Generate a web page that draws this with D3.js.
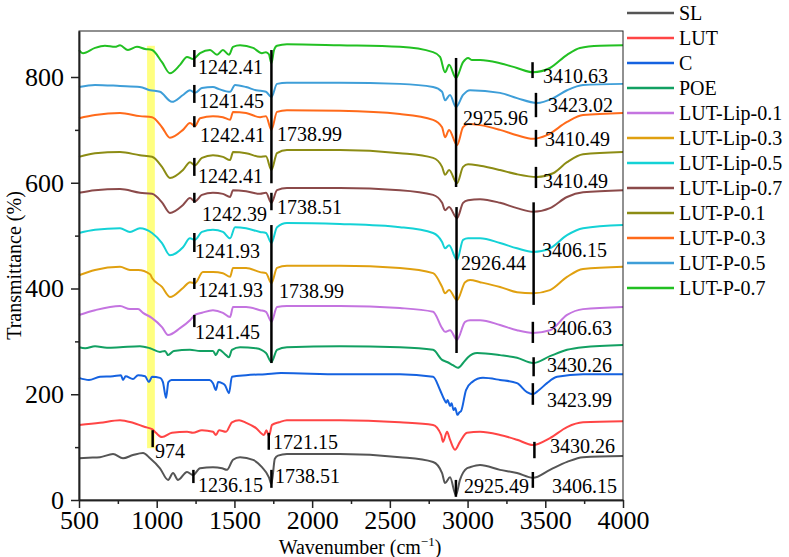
<!DOCTYPE html>
<html>
<head>
<meta charset="utf-8">
<script src="https://cdn.jsdelivr.net/npm/d3@7"></script>
<style>
  body { margin: 0; background: #fff; }
  svg text { font-family: "Liberation Serif", "DejaVu Serif", "Times New Roman", serif; fill: #000; }
</style>
</head>
<body>
<div id="chart"></div>
<script>
var seriesNames = ['SL', 'LUT', 'C', 'POE', 'LUT-Lip-0.1', 'LUT-Lip-0.3', 'LUT-Lip-0.5',
  'LUT-Lip-0.7', 'LUT-P-0.1', 'LUT-P-0.3', 'LUT-P-0.5', 'LUT-P-0.7']

var xTicks = [500, 1000, 1500, 2000, 2500, 3000, 3500, 4000]
var xMinorTicks = [750, 1250, 1750, 2250, 2750, 3250, 3750]
var yTicks = [0, 200, 400, 600, 800]
var yMinorTicks = [100, 300, 500, 700]

// [wavenumber, transmittance]
var SL = [[500,79],[560,80],[635,81],[719,87],[783,79],[847,85],[912,89],[957,79],[1021,60],[1073,38],[1105,51],[1137,38],[1195,53],[1233,47],[1279,60],[1362,62],[1420,60],[1452,57],[1491,76],[1536,81],[1620,76],[1677,62],[1722,43],[1738,30],[1760,78],[1780,84],[1838,87],[2179,87],[2565,81],[2778,72],[2836,51],[2855,32],[2887,43],[2925,9],[2951,38],[2996,60],[3016,62],[3080,66],[3209,57],[3318,51],[3421,42],[3530,57],[3640,72],[3743,81],[4000,83]]
var LUT = [[500,142],[635,146],[764,151],[847,146],[925,138],[970,134],[995,127],[1034,119],[1098,127],[1195,129],[1233,127],[1291,132],[1362,129],[1381,123],[1401,132],[1446,129],[1484,147],[1530,151],[1575,146],[1639,136],[1690,123],[1706,132],[1722,121],[1742,142],[1787,147],[1838,151],[2179,151],[2565,147],[2778,142],[2830,123],[2842,110],[2868,129],[2887,114],[2919,95],[2951,110],[2996,127],[3080,129],[3209,123],[3318,114],[3421,104],[3530,117],[3640,138],[3743,147],[4000,149]]
var C = [[500,231],[564,227],[635,233],[719,234],[770,236],[783,227],[800,234],[847,229],[880,236],[925,234],[950,223],[970,233],[1021,231],[1040,223],[1060,193],[1075,223],[1095,227],[1200,227],[1340,227],[1362,221],[1381,208],[1395,223],[1420,221],[1440,217],[1465,202],[1484,233],[1575,236],[1700,238],[1800,240],[2179,238],[2565,238],[2778,233],[2823,208],[2850,190],[2862,184],[2872,189],[2887,178],[2897,183],[2910,170],[2920,174],[2935,161],[2948,166],[2958,168],[2990,208],[3029,223],[3099,231],[3209,227],[3318,221],[3382,204],[3421,200],[3460,208],[3511,221],[3576,233],[3743,238],[4000,238]]
var POE = [[500,289],[540,287],[603,291],[680,288],[764,289],[892,291],[957,287],[1021,280],[1053,282],[1073,274],[1110,282],[1214,284],[1279,282],[1362,282],[1381,274],[1401,284],[1446,274],[1465,270],[1484,284],[1536,289],[1639,287],[1703,278],[1738,261],[1774,284],[1838,289],[2179,291],[2565,289],[2778,284],[2836,265],[2868,261],[2906,255],[2938,250],[2971,259],[3003,270],[3061,278],[3209,274],[3318,269],[3421,259],[3530,272],[3640,284],[3743,289],[4000,293]]
var LUTLip01 = [[500,350],[603,359],[764,367],[828,361],[880,361],[912,354],[970,344],[1034,327],[1073,312],[1150,325],[1214,340],[1246,350],[1291,354],[1362,359],[1426,354],[1472,346],[1491,365],[1575,365],[1665,359],[1703,356],[1738,337],[1774,365],[1838,367],[2179,367],[2565,363],[2778,356],[2836,325],[2855,318],[2887,321],[2932,303],[2984,337],[3016,340],[3080,340],[3209,331],[3318,321],[3421,316],[3530,321],[3640,350],[3743,361],[4000,365]]
var LUTLip03 = [[500,425],[603,435],[764,441],[828,435],[880,435],[957,427],[970,420],[1034,403],[1085,384],[1169,401],[1214,412],[1246,410],[1297,431],[1362,431],[1426,429],[1472,422],[1491,439],[1575,439],[1665,431],[1703,429],[1738,410],[1774,439],[1838,443],[2179,443],[2565,439],[2778,429],[2836,403],[2855,391],[2881,397],[2932,378],[2984,412],[3016,416],[3080,412],[3209,403],[3318,393],[3421,391],[3530,397],[3640,422],[3743,437],[4000,441]]
var LUTLip05 = [[500,505],[603,511],[764,514],[828,507],[892,514],[970,505],[1034,486],[1085,463],[1169,478],[1214,495],[1246,492],[1291,507],[1362,511],[1426,507],[1472,495],[1504,516],[1575,514],[1665,507],[1703,505],[1738,486],[1774,516],[1838,524],[2179,522],[2565,516],[2778,505],[2836,488],[2855,476],[2881,482],[2932,454],[2971,492],[3003,495],[3080,495],[3209,486],[3318,476],[3421,469],[3530,476],[3640,501],[3743,514],[4000,520]]
var LUTLip07 = [[500,581],[603,586],[764,588],[892,581],[970,579],[1034,563],[1085,543],[1169,558],[1214,571],[1246,565],[1291,577],[1362,581],[1426,579],[1472,573],[1491,586],[1575,584],[1665,579],[1703,581],[1738,562],[1774,586],[1838,590],[2179,590],[2565,586],[2778,577],[2836,562],[2855,548],[2881,554],[2932,533],[2971,562],[3003,567],[3080,569],[3209,562],[3318,552],[3421,545],[3530,552],[3640,573],[3743,582],[4000,586]]
var LUTP01 = [[500,649],[603,656],[764,658],[892,652],[970,649],[1034,630],[1085,609],[1169,624],[1214,639],[1246,633],[1291,647],[1362,652],[1426,649],[1472,643],[1491,658],[1575,656],[1665,649],[1703,650],[1738,624],[1774,656],[1838,662],[2179,662],[2565,656],[2778,647],[2836,630],[2855,615],[2881,624],[2932,599],[2971,630],[3003,635],[3080,632],[3209,624],[3318,616],[3447,611],[3550,618],[3640,639],[3743,654],[4000,658]]
var LUTP03 = [[500,722],[603,728],[764,732],[892,726],[970,724],[1034,705],[1085,685],[1169,700],[1214,713],[1246,707],[1279,722],[1362,726],[1426,724],[1472,719],[1491,734],[1575,732],[1665,724],[1703,726],[1738,700],[1774,734],[1838,737],[2179,736],[2565,730],[2778,719],[2836,705],[2855,686],[2881,700],[2932,671],[2971,705],[3003,711],[3080,709],[3209,700],[3318,690],[3421,683],[3511,690],[3640,715],[3743,728],[4000,732]]
var LUTP05 = [[500,781],[603,785],[764,783],[892,781],[957,775],[1021,772],[1098,753],[1169,766],[1214,775],[1246,770],[1291,779],[1362,781],[1401,777],[1472,772],[1504,785],[1575,781],[1639,775],[1703,772],[1738,762],[1774,787],[1838,789],[2179,789],[2565,787],[2778,781],[2836,772],[2855,756],[2887,766],[2925,743],[2971,766],[3016,775],[3209,770],[3318,760],[3447,751],[3550,760],[3640,775],[3743,785],[4000,787]]
var LUTP07 = [[500,851],[526,845],[603,855],[667,859],[732,857],[764,860],[815,851],[873,857],[925,853],[970,851],[1034,828],[1085,807],[1150,823],[1195,838],[1233,834],[1279,845],[1343,851],[1388,842],[1426,851],[1465,842],[1491,857],[1536,860],[1620,855],[1677,845],[1703,847],[1722,843],[1738,826],[1755,851],[1774,859],[1838,862],[2179,860],[2565,857],[2778,847],[2823,838],[2855,809],[2881,823],[2925,798],[2971,828],[3003,836],[3029,832],[3080,832],[3209,826],[3318,817],[3421,809],[3530,817],[3640,842],[3723,855],[3852,859],[4000,860]]

var spectra = [SL, LUT, C, POE, LUTLip01, LUTLip03, LUTLip05, LUTLip07, LUTP01, LUTP03, LUTP05, LUTP07]

// highlighted band near 974 cm-1
var bandWavenumbers = [938, 988]
var bandTransmittance = [98, 859]

// peak markers: [wavenumber, from, to]
var peakMarkers = [
  [1242, 851, 819], [1242, 785, 751], [1242, 726, 705], [1242, 647, 613],
  [1242, 581, 562], [1242, 505, 469], [1242, 420, 399], [1242, 350, 327],
  [974, 132, 100], [1721, 127, 95], [1236, 57, 32], [1738, 57, 23],
  [1738, 851, 599], [1738, 581, 548], [1738, 520, 259],
  [2926, 836, 592], [2929, 554, 278], [2925, 38, 6],
  [3418, 828, 798], [3440, 770, 724], [3440, 700, 668], [3440, 630, 590],
  [3425, 563, 369], [3420, 337, 297], [3425, 270, 234], [3420, 221, 180],
  [3430, 110, 79], [3420, 53, 23]
]

// peak labels: [text, wavenumber, transmittance]
var peakLabels = [
  ['1242.41', 1266, 806], ['1241.45', 1272, 741], ['1242.41', 1278, 677], ['1242.41', 1266, 599],
  ['1242.39', 1291, 528], ['1241.93', 1246, 458], ['1241.93', 1266, 384], ['1241.45', 1246, 304],
  ['974', 989, 79], ['1721.15', 1748, 96], ['1236.15', 1266, 15], ['1738.51', 1761, 32],
  ['1738.99', 1774, 679], ['1738.51', 1774, 541], ['1738.99', 1787, 382],
  ['2925.96', 2971, 709], ['2926.44', 2958, 435], ['2925.49', 2977, 13],
  ['3410.63', 3485, 789], ['3423.02', 3518, 734], ['3410.49', 3498, 669], ['3410.49', 3485, 590],
  ['3406.15', 3479, 460], ['3406.63', 3511, 312], ['3430.26', 3511, 242], ['3423.99', 3511, 176],
  ['3430.26', 3530, 89], ['3406.15', 3543, 13]
]

var colors = ['#555555', '#ff4545', '#1562e0', '#12a062', '#c474e0', '#e0a010',
  '#14d2d6', '#8b4a4a', '#8c8c14', '#ff6a1a', '#3e9ed8', '#22c022']

;(function () {

  var margin = { top: 31, right: 166, bottom: 57, left: 79 }

  var width = 789 - margin.left - margin.right,
      height = 557 - margin.top - margin.bottom

  var serif = '"Liberation Serif", "DejaVu Serif", "Times New Roman", serif'

  var svg = d3.select("#chart").append("svg")
    .attr("width", width + margin.left + margin.right)
    .attr("height", height + margin.top + margin.bottom)
    .style("font-family", serif)
    .append("g")
    .attr("transform", "translate(" + margin.left + "," + margin.top + ")")

  var xPositionScale = d3.scaleLinear()
    .domain([500, 4000])
    .range([0, width])

  var yPositionScale = d3.scaleLinear()
    .domain([0, 887])
    .range([height, 0])

  svg.append("rect")
    .attr("x", xPositionScale(bandWavenumbers[0]))
    .attr("width", xPositionScale(bandWavenumbers[1]) - xPositionScale(bandWavenumbers[0]))
    .attr("y", yPositionScale(bandTransmittance[1]))
    .attr("height", yPositionScale(bandTransmittance[0]) - yPositionScale(bandTransmittance[1]))
    .attr("fill", "#ffff80")

  var line = d3.line()
    .x(function (d) { return xPositionScale(d[0]) })
    .y(function (d) { return yPositionScale(d[1]) })
    .curve(d3.curveMonotoneX)

  svg.selectAll(".spectrum")
    .data(spectra)
    .enter().append("path")
    .attr("class", "spectrum")
    .attr("d", line)
    .attr("fill", "none")
    .attr("stroke", function (d, i) { return colors[i] })
    .attr("stroke-width", 2)
    .attr("stroke-linejoin", "round")

  svg.selectAll(".marker")
    .data(peakMarkers)
    .enter().append("line")
    .attr("class", "marker")
    .attr("x1", function (d) { return xPositionScale(d[0]) })
    .attr("x2", function (d) { return xPositionScale(d[0]) })
    .attr("y1", function (d) { return yPositionScale(d[1]) })
    .attr("y2", function (d) { return yPositionScale(d[2]) })
    .attr("stroke", "#000")
    .attr("stroke-width", 2.5)

  svg.selectAll(".peak-label")
    .data(peakLabels)
    .enter().append("text")
    .attr("class", "peak-label")
    .attr("x", function (d) { return xPositionScale(d[1]) })
    .attr("y", function (d) { return yPositionScale(d[2]) })
    .style("font-family", serif)
    .style("font-size", "20px")
    .text(function (d) { return d[0] })

  // frame
  svg.append("rect")
    .attr("width", width)
    .attr("height", height)
    .attr("fill", "none")
    .attr("stroke", "#222")
    .attr("stroke-width", 1)

  var xAxis = d3.axisBottom(xPositionScale)
    .tickValues(xTicks)
    .tickSize(8)
    .tickSizeOuter(0)
    .tickPadding(3)
    .tickFormat(d3.format("d"))
  svg.append("g")
    .attr("class", "axis x-axis")
    .attr("transform", "translate(0," + height + ")")
    .call(xAxis)

  svg.append("g")
    .attr("class", "axis x-minor")
    .attr("transform", "translate(0," + height + ")")
    .call(d3.axisBottom(xPositionScale).tickValues(xMinorTicks).tickSize(4).tickSizeOuter(0).tickFormat(""))

  var yAxis = d3.axisLeft(yPositionScale)
    .tickValues(yTicks)
    .tickSize(8)
    .tickSizeOuter(0)
    .tickPadding(7)
  svg.append("g")
    .attr("class", "axis y-axis")
    .call(yAxis)

  svg.append("g")
    .attr("class", "axis y-minor")
    .call(d3.axisLeft(yPositionScale).tickValues(yMinorTicks).tickSize(4).tickSizeOuter(0).tickFormat(""))

  svg.selectAll(".axis")
    .attr("font-family", null)
    .attr("font-size", null)
  svg.selectAll(".axis text")
    .style("font-family", serif)
    .style("font-size", "26px")
    .attr("fill", "#000")
  svg.selectAll(".axis path, .axis line")
    .attr("stroke", "#222")
    .attr("stroke-width", 1.5)

  // axis titles
  var xTitle = svg.append("text")
    .attr("x", width / 2 + 9)
    .attr("y", height + 54)
    .attr("text-anchor", "middle")
    .style("font-family", serif)
    .style("font-size", "20px")
  xTitle.append("tspan").text("Wavenumber (cm")
  xTitle.append("tspan").attr("dy", -8).style("font-size", "13px").text("\u22121")
  xTitle.append("tspan").attr("dy", 8).text(")")

  svg.append("text")
    .attr("transform", "translate(" + (-58) + "," + (height / 2) + ") rotate(-90)")
    .attr("text-anchor", "middle")
    .style("font-family", serif)
    .style("font-size", "20px")
    .text("Transmittance (%)")

  // legend
  var legend = svg.selectAll(".legend")
    .data(seriesNames)
    .enter().append("g")
    .attr("class", "legend")
    .attr("transform", function (d, i) { return "translate(" + (width + 4) + "," + (-18 + i * 25) + ")" })

  legend.append("line")
    .attr("x1", 0)
    .attr("x2", 47)
    .attr("stroke", function (d, i) { return colors[i] })
    .attr("stroke-width", 2.5)

  legend.append("text")
    .attr("x", 52)
    .attr("y", 7)
    .style("font-family", serif)
    .style("font-size", "20px")
    .text(function (d) { return d })

})()
</script>
</body>
</html>
